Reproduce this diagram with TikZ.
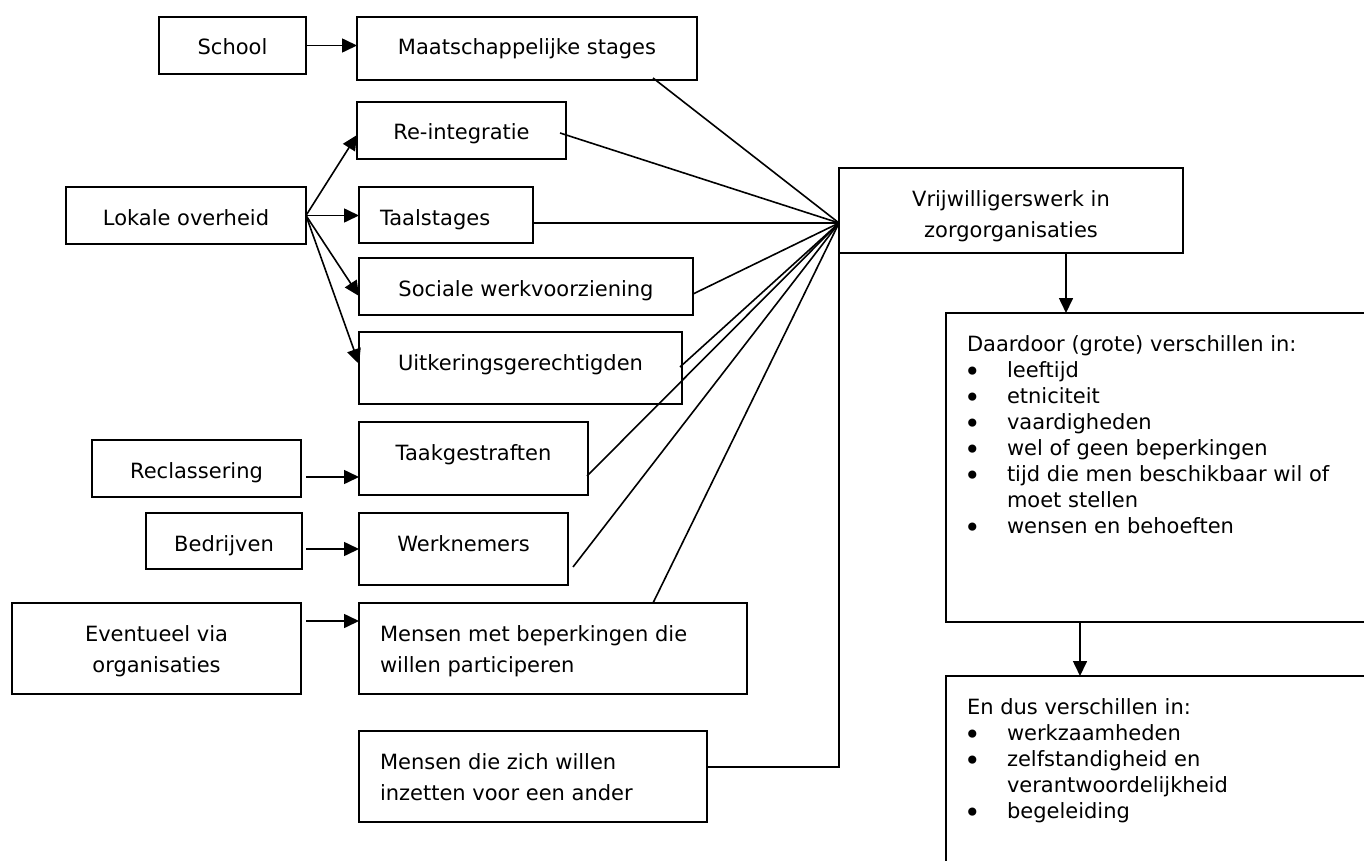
\documentclass[tikz,border=0pt]{standalone}
\usepackage{fontspec}
\setmainfont{DejaVu Sans}
\usetikzlibrary{arrows.meta,calc}
\newcommand{\cbx}[3]{\parbox[c][#2pt][t]{#1pt}{\fontsize{21pt}{31pt}\selectfont\centering\rule{0pt}{38pt}#3\par}}
\newcommand{\lbx}[3]{\parbox[c][#2pt][t]{#1pt}{\fontsize{21pt}{31pt}\selectfont\raggedright\leftskip=21pt\relax\rule{0pt}{38pt}#3\par}}
\newcommand{\bitem}[1]{\par\hangindent=40pt\hangafter=1\noindent\makebox[40pt][l]{\hspace{-3pt}\raisebox{-4pt}{\fontsize{28pt}{26pt}\selectfont•}}#1\par}
\newcommand{\rbx}[3]{\parbox[c][#2pt][t]{#1pt}{\fontsize{21pt}{26pt}\selectfont\raggedright\leftskip=21pt\relax\rule{0pt}{38pt}#3\par}}
\tikzset{
  bx/.style={draw, line width=1.8pt, inner sep=0pt, outer sep=0pt, anchor=north west},
  ln/.style={line width=1.6pt},
  arr/.style={line width=1.6pt, -{Triangle[length=15pt,width=14pt]}}
}
\begin{document}
\begin{tikzpicture}[x=1pt, y=-1pt]
\useasboundingbox (0,0) rectangle (1364,861);
\clip (0,0) rectangle (1364,861);
% boxes
\node[bx] (school) at (159,17) {\cbx{147}{57}{School}};
\node[bx] (maat) at (357,17) {\cbx{340}{63}{Maatschappelijke stages}};
\node[bx] (re) at (357,102) {\cbx{209}{57}{Re-integratie}};
\node[bx] (lokale) at (66,187) {\cbx{240}{57}{Lokale overheid}};
\node[bx] (taal) at (359,187) {\lbx{174}{56}{Taalstages}};
\node[bx] (sociale) at (359,258) {\cbx{334}{57}{Sociale werkvoorziening}};
\node[bx] (uitk) at (359,332) {\cbx{323}{72}{Uitkeringsgerechtigden}};
\node[bx] (recl) at (92,440) {\cbx{209}{57}{Reclassering}};
\node[bx] (taak) at (359,422) {\cbx{229}{73}{Taakgestraften}};
\node[bx] (bedr) at (146,513) {\cbx{156}{56}{Bedrijven}};
\node[bx] (werkn) at (359,513) {\cbx{209}{72}{Werknemers}};
\node[bx] (event) at (12,603) {\cbx{289}{91}{Eventueel via\\organisaties}};
\node[bx] (mb) at (359,603) {\lbx{388}{91}{Mensen met beperkingen die\\willen participeren}};
\node[bx] (mz) at (359,731) {\lbx{348}{91}{Mensen die zich willen\\inzetten voor een ander}};
\node[bx] (vrij) at (839,168) {\cbx{344}{85}{Vrijwilligerswerk in\\zorgorganisaties}};
\node[bx] (daardoor) at (946,313) {\rbx{454}{309}{Daardoor (grote) verschillen in:\par
  \bitem{leeftijd}\bitem{etniciteit}\bitem{vaardigheden}\bitem{wel of geen beperkingen}%
  \bitem{tijd die men beschikbaar wil of\newline moet stellen}\bitem{wensen en behoeften}}};
\node[bx] (endus) at (946,676) {\rbx{454}{230}{En dus verschillen in:\par
  \bitem{werkzaamheden}\bitem{zelfstandigheid en\newline verantwoordelijkheid}\bitem{begeleiding}}};
% coordinates
\coordinate (hub) at (839,223);
\coordinate (pm) at (653,78);
\coordinate (pr) at (560,133);
\coordinate (ps) at (693,294);
\coordinate (pu) at (680,367);
\coordinate (pt) at (587,476);
\coordinate (pw) at (573,567);
\coordinate (pb) at (653,603);
\coordinate (pz) at (707,767);
\coordinate (tRe) at (357,135);
\coordinate (tSo) at (359,296);
\coordinate (tUi) at (359,364);
\coordinate (rs) at (306,477);
\coordinate (bs) at (306,549);
\coordinate (es) at (306,621);
\coordinate (ax1) at (1066,0);
\coordinate (ax2) at (1080,0);
% fan-in lines
\draw[ln] (pm) -- (hub);
\draw[ln] (pr) -- (hub);
\draw[ln] (hub -| taal.east) -- (hub);
\draw[ln] (ps) -- (hub);
\draw[ln] (pu) -- (hub);
\draw[ln] (pt) -- (hub);
\draw[ln] (pw) -- (hub);
\draw[ln] (pb) -- (hub);
\draw[ln] (pz) -| (vrij.south west);
% arrows
\draw[arr] (school.east) -- (school.east -| maat.west);
\draw[arr] (lokale.east) -- (tRe);
\draw[arr] (lokale.east) -- (lokale.east -| taal.west);
\draw[arr] (lokale.east) -- (tSo);
\draw[arr] (lokale.east) -- (tUi);
\draw[arr] (rs) -- (rs -| taak.west);
\draw[arr] (bs) -- (bs -| werkn.west);
\draw[arr] (es) -- (es -| mb.west);
\draw[arr] (ax1 |- vrij.south) -- (ax1 |- daardoor.north);
\draw[arr] (ax2 |- daardoor.south) -- (ax2 |- endus.north);
\end{tikzpicture}
\end{document}
